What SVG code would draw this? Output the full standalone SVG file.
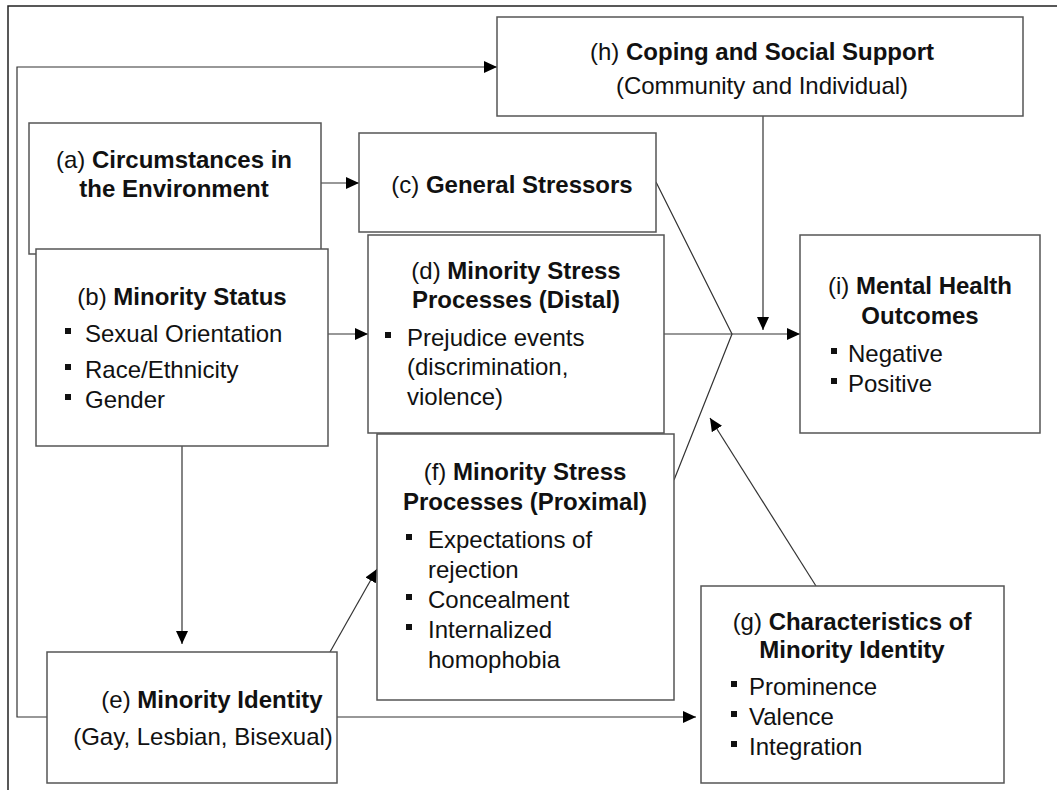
<svg xmlns="http://www.w3.org/2000/svg" width="1057" height="790" viewBox="0 0 1057 790">
<defs>
<style>
.box{fill:#fff;stroke:#555;stroke-width:1.5}
.ln{fill:none;stroke:#333;stroke-width:1.2}
.ar{marker-end:url(#arr)}
text{font-family:"Liberation Sans",Arial,sans-serif;font-size:24px;fill:#111}
.c{text-anchor:middle}
.b{font-weight:bold}
.bl{fill:#111}
</style>
<marker id="arr" markerUnits="userSpaceOnUse" markerWidth="14" markerHeight="12" refX="13" refY="6" orient="auto">
<path d="M0,0 L13,6 L0,12 z" fill="#000"/>
</marker>
</defs>
<rect width="1057" height="790" fill="#fff"/>
<g id="frame">
<path d="M8,790 L8,6 L1057,6" fill="none" stroke="#222" stroke-width="1.5"/>
</g>
<g id="connectors">
<polyline class="ln ar" points="47,717 17,717 17,67 497,67"/>
<line class="ln ar" x1="321" y1="183" x2="359" y2="183"/>
<line class="ln ar" x1="328" y1="334" x2="368" y2="334"/>
<line class="ln ar" x1="182" y1="446" x2="182" y2="644"/>
<line class="ln ar" x1="330" y1="652" x2="377" y2="569"/>
<line class="ln ar" x1="337" y1="717" x2="696" y2="717"/>
<polyline class="ln" points="656,182 732,334 674,480"/>
<line class="ln ar" x1="664" y1="334" x2="800" y2="334"/>
<line class="ln ar" x1="763" y1="116" x2="763" y2="330"/>
<line class="ln ar" x1="816" y1="586" x2="710" y2="418"/>
</g>
<g id="node-h">
<rect class="box" x="497" y="17" width="526" height="99"/>
<text class="c" x="762" y="60">(h) <tspan class="b">Coping and Social Support</tspan></text>
<text class="c" x="762" y="94">(Community and Individual)</text>
</g>
<g id="node-a">
<rect class="box" x="29" y="123" width="292" height="131"/>
<text class="c" x="174" y="168">(a) <tspan class="b">Circumstances in</tspan></text>
<text class="c b" x="174" y="197">the Environment</text>
</g>
<g id="node-c">
<rect class="box" x="359" y="133" width="297" height="99"/>
<text class="c" x="512" y="193">(c) <tspan class="b">General Stressors</tspan></text>
</g>
<g id="node-b">
<rect class="box" x="36" y="249" width="292" height="197"/>
<text class="c" x="182" y="305">(b) <tspan class="b">Minority Status</tspan></text>
<rect class="bl" x="65" y="328" width="6" height="6"/>
<text x="85" y="342">Sexual Orientation</text>
<rect class="bl" x="65" y="364" width="6" height="6"/>
<text x="85" y="378">Race/Ethnicity</text>
<rect class="bl" x="65" y="394" width="6" height="6"/>
<text x="85" y="408">Gender</text>
</g>
<g id="node-d">
<rect class="box" x="368" y="235" width="296" height="198"/>
<text class="c" x="516" y="279">(d) <tspan class="b">Minority Stress</tspan></text>
<text class="c b" x="516" y="308">Processes (Distal)</text>
<rect class="bl" x="385" y="332" width="6" height="6"/>
<text x="407" y="346">Prejudice events</text>
<text x="407" y="375">(discrimination,</text>
<text x="407" y="405">violence)</text>
</g>
<g id="node-f">
<rect class="box" x="377" y="434" width="297" height="266"/>
<text class="c" x="525" y="480">(f) <tspan class="b">Minority Stress</tspan></text>
<text class="c b" x="525" y="510">Processes (Proximal)</text>
<rect class="bl" x="406" y="534" width="6" height="6"/>
<text x="428" y="548">Expectations of</text>
<text x="428" y="578">rejection</text>
<rect class="bl" x="406" y="594" width="6" height="6"/>
<text x="428" y="608">Concealment</text>
<rect class="bl" x="406" y="624" width="6" height="6"/>
<text x="428" y="638">Internalized</text>
<text x="428" y="668">homophobia</text>
</g>
<g id="node-e">
<rect class="box" x="47" y="652" width="290" height="131"/>
<text class="c" x="212" y="708">(e) <tspan class="b">Minority Identity</tspan></text>
<text class="c" x="203" y="745">(Gay, Lesbian, Bisexual)</text>
</g>
<g id="node-g">
<rect class="box" x="701" y="586" width="303" height="197"/>
<text class="c" x="852" y="630">(g) <tspan class="b">Characteristics of</tspan></text>
<text class="c b" x="852" y="658">Minority Identity</text>
<rect class="bl" x="731" y="681" width="6" height="6"/>
<text x="749" y="695">Prominence</text>
<rect class="bl" x="731" y="711" width="6" height="6"/>
<text x="749" y="725">Valence</text>
<rect class="bl" x="731" y="741" width="6" height="6"/>
<text x="749" y="755">Integration</text>
</g>
<g id="node-i">
<rect class="box" x="800" y="235" width="240" height="198"/>
<text class="c" x="920" y="294">(i) <tspan class="b">Mental Health</tspan></text>
<text class="c b" x="920" y="324">Outcomes</text>
<rect class="bl" x="831" y="348" width="6" height="6"/>
<text x="848" y="362">Negative</text>
<rect class="bl" x="831" y="378" width="6" height="6"/>
<text x="848" y="392">Positive</text>
</g>
</svg>
